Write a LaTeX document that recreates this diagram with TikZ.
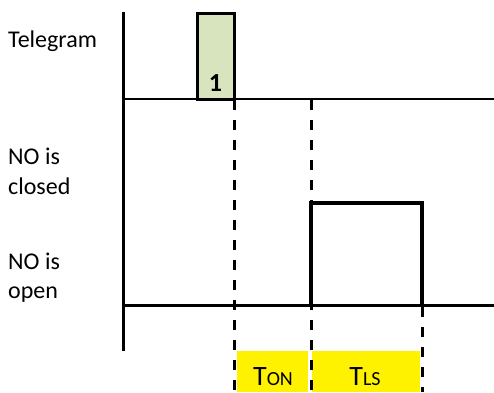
\documentclass[tikz,border=0pt]{standalone}
\usepackage{fontspec}
\setmainfont{Carlito}
\begin{document}
\begin{tikzpicture}[x=1pt,y=-1pt,
  axis/.style={line width=3pt},
  sig/.style={line width=4pt},
  dline/.style={line width=3pt,dash pattern=on 10pt off 10pt},
  lbl/.style={anchor=base west,inner sep=0pt,font=\fontsize{24}{24}\selectfont},
  tlbl/.style={anchor=base,inner sep=0pt,font=\fontsize{28}{28}\selectfont}
]
\useasboundingbox (0,0) rectangle (494,392);
% yellow boxes
\fill[yellow] (237,351) rectangle (308,392);
\fill[yellow] (312,351) rectangle (420,392);
\node[tlbl] (ton) at (273,385) {T{\fontsize{20}{20}\selectfont ON}};
\node[tlbl] (tls) at (365,385) {T{\fontsize{20}{20}\selectfont LS}};
% telegram pulse
\node[draw,line width=3pt,fill={rgb,255:red,215;green,228;blue,189},minimum width=37pt,minimum height=85.5pt,inner sep=0pt,outer sep=0pt] (pulse) at (216,56.25) {};
\node[anchor=base,inner sep=0pt,font=\bfseries\fontsize{26}{26}\selectfont] (one) at (215.5,91) {1};
% axes
\coordinate (ytop) at (123,12);
\coordinate (ybot) at (123,351);
\draw[axis] (ytop) -- (ybot);
\coordinate (l1a) at (123,99);
\coordinate (l1b) at (494,99);
\draw[line width=2.5pt] (l1a) -- (l1b);
\coordinate (l2a) at (123,305);
\coordinate (l2b) at (494,305);
\draw[line width=3pt] (l2a) -- (l2b);
% NO pulse
\coordinate (r0) at (311,305);
\coordinate (r1) at (311,203);
\coordinate (r2) at (422,203);
\coordinate (r3) at (422,305);
\draw[sig,line join=miter] (r0) -- (r1) -- (r2) -- (r3);
% dashed lines
\coordinate (d1t) at (234.5,100);
\coordinate (d1b) at (234.5,392);
\coordinate (d2t) at (311,100);
\coordinate (d2b) at (311,392);
\coordinate (d3t) at (422,307);
\coordinate (d3b) at (422,392);
\draw[dline] (d1t) -- (d1b);
\draw[dline] (d2t) -- (d2b);
\draw[dline] (d3t) -- (d3b);
% labels
\node[lbl] (tel) at (8,47) {Telegram};
\node[lbl] (clo1) at (8,164) {NO is};
\node[lbl] (clo2) at (8,194) {closed};
\node[lbl] (opn1) at (8,269) {NO is};
\node[lbl] (opn2) at (8,298) {open};
\end{tikzpicture}
\end{document}
